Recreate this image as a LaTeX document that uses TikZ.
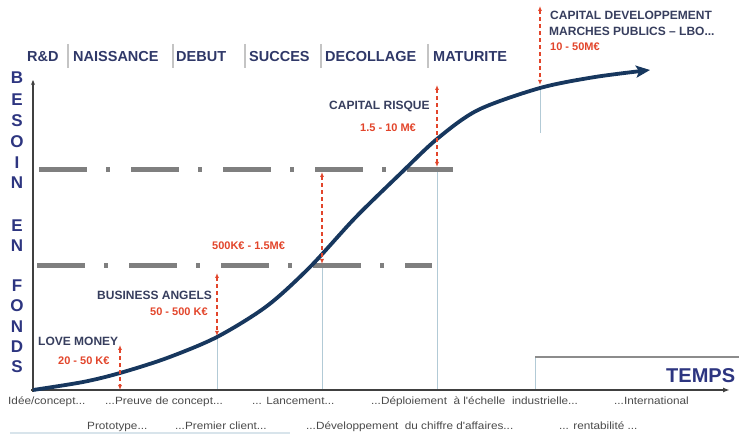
\documentclass[tikz,border=0pt]{standalone}
\usepackage{fontspec}
\setmainfont{Liberation Sans}
\newfontfamily\stagefont[FakeStretch=1.12]{Liberation Sans}
\usetikzlibrary{arrows.meta}

\definecolor{curveblue}{HTML}{17375E}
\definecolor{titleblue}{HTML}{2F3868}
\definecolor{letterblue}{HTML}{2D3580}
\definecolor{labelink}{HTML}{373E5E}
\definecolor{amountred}{HTML}{E2452B}
\definecolor{levelgray}{HTML}{7F7F7F}
\definecolor{guideblue}{HTML}{B2CAD6}
\definecolor{phasegray}{HTML}{C4C4C4}
\definecolor{stageink}{HTML}{4A4A4A}
\definecolor{axisink}{HTML}{404040}

\tikzset{
  phase/.style={font=\fontsize{14.5}{16}\selectfont\bfseries, text=titleblue, inner sep=0pt, anchor=base west},
  phasebar/.style={phasegray, line width=2pt},
  vletter/.style={font=\fontsize{17}{18}\selectfont\bfseries, text=letterblue, inner sep=0pt},
  investor/.style={font=\fontsize{12}{13}\selectfont\bfseries, text=labelink, inner sep=0pt, anchor=base west},
  amount/.style={font=\fontsize{11}{13}\selectfont\bfseries, text=amountred, inner sep=0pt, anchor=base west},
  stage/.style={font=\stagefont\fontsize{10.5}{12}\selectfont, text=stageink, inner sep=0pt, anchor=base west},
  level/.style={levelgray, line width=5pt, dash pattern=on 48pt off 19pt on 4pt off 21pt},
  guide/.style={guideblue, line width=1pt},
  funding/.style={amountred, line width=1.2pt, dash pattern=on 4pt off 3pt,
    arrows={Latex[length=5pt,width=4pt]-Latex[length=5pt,width=4pt]}},
}

\begin{document}
\begin{tikzpicture}[x=1pt, y=-1pt]
\useasboundingbox (0,0) rectangle (739,435);

% Guide lines down to the time axis
\draw[guide] (217,337) -- (217,390);
\draw[guide] (322,266) -- (322,390);
\draw[guide] (437,170) -- (437,390);
\draw[guide] (540,88) -- (540,133);
\draw[guide] (535,357) -- (535,390);
\draw[levelgray!90, line width=1.3pt] (535,357) -- (739,357);
\draw[guideblue!50, line width=2pt] (10,433) -- (290,433);

% Funding levels
\draw[level] (39,170) -- (453,170);
\draw[level] (37,266) -- (432,266);

% Axes
\draw[axisink, line width=1.5pt, -{Stealth[length=5pt,width=4pt]}] (33,392) -- (33,80);
\draw[axisink, line width=1.5pt, -{Latex[length=7pt,width=5pt]}] (31,390) -- (730,390);

% Growth curve
\draw[curveblue, line width=3.8pt, -{Stealth[length=14pt,width=12pt,inset=3pt]}]
  plot[smooth] coordinates {(33,390) (83,382) (120,373) (167,358) (217,337) (267,306)
    (310,267) (355,218) (400,174) (437,139) (478,110) (540,88) (595,77) (650,70)};

% Funding ranges
\draw[funding] (120,345) -- (120,390);
\draw[funding] (217,273) -- (217,336);
\draw[funding] (322,172) -- (322,264);
\draw[funding] (437,85) -- (437,167);
\draw[funding] (540,6) -- (540,85);

% Phases
\node[phase] (rd) at (27,62) {R\&D};
\node[phase] (naissance) at (73,62) {NAISSANCE};
\node[phase] (debut) at (176,62) {DEBUT};
\node[phase] (succes) at (249,62) {SUCCES};
\node[phase] (decollage) at (325,62) {DECOLLAGE};
\node[phase] (maturite) at (433,62) {MATURITE};
\foreach \x in {68,173,245,321,428}
  \draw[phasebar] (\x,44) -- (\x,68);

% Vertical axis title
\foreach \l/\y [count=\i] in {B/78,E/100,S/121,O/142,I/163,N/183,E/226,N/246,F/286,O/306,N/327,D/347,S/367}
  \node[vletter] (besoin\i) at (17,\y) {\l};

\node[font=\fontsize{20}{22}\selectfont\bfseries, text=letterblue, inner sep=0pt, anchor=base west] (temps) at (666,383) {TEMPS};

% Investors
\node[investor] (love) at (38,346) {LOVE MONEY};
\node[amount] (loveamt) at (58,365) {20 - 50 K€};
\node[investor] (angels) at (97,300) {BUSINESS ANGELS};
\node[amount] (angelsamt) at (150,316) {50 - 500 K€};
\node[amount] (seedamt) at (212,250) {500K€ - 1.5M€};
\node[investor] (risque) at (329,110) {CAPITAL RISQUE};
\node[amount] (risqueamt) at (360,132) {1.5 - 10 M€};
\node[investor] (devel) at (550,20) {CAPITAL DEVELOPPEMENT};
\node[investor] (marches) at (549,36) {MARCHES PUBLICS – LBO...};
\node[amount] (develamt) at (550,51) {10 - 50M€};

% Stages along the time axis
\node[stage] (idee) at (8,405) {Idée/concept...};
\node[stage] (preuve) at (105,405) {...Preuve de concept...};
\node[stage] (lancement) at (252,405) {... Lancement...};
\node[stage] (deploiement) at (371,405) {...Déploiement\ \ à l'échelle\ \ industrielle...};
\node[stage] (inter) at (614,405) {...International};
\node[stage] (proto) at (87,430) {Prototype...};
\node[stage] (client) at (175,430) {...Premier client...};
\node[stage] (ca) at (306,430) {...Développement\ \ du chiffre d'affaires...};
\node[stage] (renta) at (559,430) {... rentabilité ...};

\end{tikzpicture}
\end{document}
